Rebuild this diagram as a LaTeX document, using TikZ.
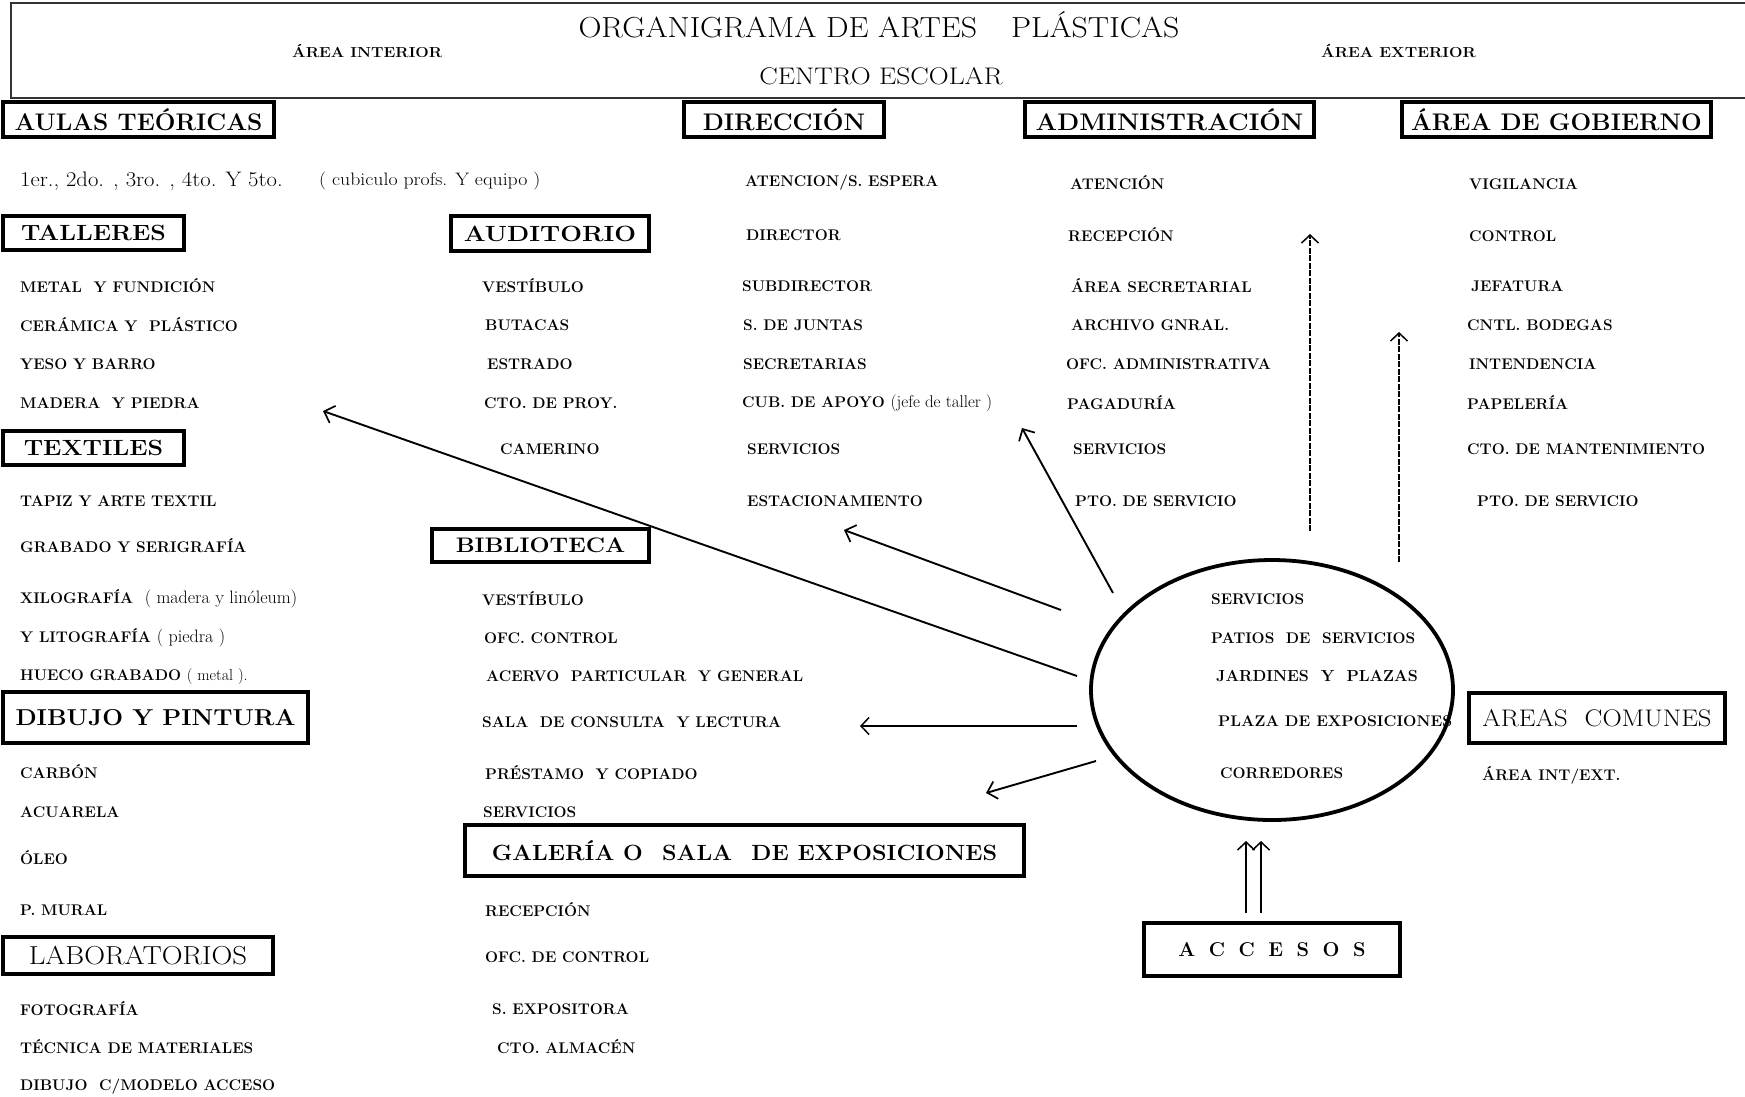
\documentclass[tikz,border=0pt]{standalone}
\usepackage{graphicx}
\usetikzlibrary{arrows.meta,shapes.geometric}
\newcommand{\hsq}[2]{\scalebox{#1}[1]{#2}}
\begin{document}
\begin{tikzpicture}[x=1pt,y=-1pt,
  itm/.style={anchor=west, inner sep=0pt, font=\fontsize{15.4}{17}\selectfont\bfseries},
  lc/.style={anchor=west, inner sep=0pt, font=\fontsize{16}{18}\selectfont},
  hbox/.style={draw, line width=3.4pt, inner sep=0pt, font=\fontsize{24}{26}\selectfont\bfseries},
  bbox/.style={draw, line width=3.4pt, inner sep=0pt, font=\fontsize{22}{24}\selectfont\bfseries},
  arr/.style={line width=1.9pt, -{Straight Barb[length=9pt,width=18pt,line width=1.7pt]}},
  varr/.style={line width=1.2pt, dash pattern=on 6pt off 1.5pt, -{Straight Barb[length=8pt,width=17pt,line width=1.5pt]}},
  tarr/.style={line width=1.2pt, -{Straight Barb[length=8pt,width=17pt,line width=1.5pt]}}]
\useasboundingbox (0,0) rectangle (1745,1096);
\fill[white] (0,0) rectangle (1745,1096);

% header
\draw[line width=1.3pt, black!80] (1750,3) -- (11,3) -- (11,98) -- (1750,98);
\node[inner sep=0pt, font=\fontsize{29}{32}\selectfont] (title) at (879,25) {\hsq{1.1}{ORGANIGRAMA DE ARTES}\hspace{34pt}\hsq{1.1}{PLÁSTICAS}};
\node[inner sep=0pt, anchor=west, font=\fontsize{14.5}{16}\selectfont\bfseries] (aint) at (292,51) {\hsq{1.1}{ÁREA INTERIOR}};
\node[inner sep=0pt, anchor=west, font=\fontsize{14.5}{16}\selectfont\bfseries] (aext) at (1321,51) {\hsq{1.1}{ÁREA EXTERIOR}};
\node[inner sep=0pt, font=\fontsize{24}{26}\selectfont] (centro) at (881,76) {\hsq{1.15}{CENTRO ESCOLAR}};

% boxes
\node[hbox, minimum width=271, minimum height=35] (aulas) at (138.5,119.5) {\raisebox{-2pt}{\hsq{1.02}{AULAS TEÓRICAS}}};
\node[hbox, minimum width=200, minimum height=35] (direc) at (784,119.5) {\raisebox{-2pt}{\hsq{1.02}{DIRECCIÓN}}};
\node[hbox, minimum width=289, minimum height=35] (admin) at (1169.5,119.5) {\raisebox{-2pt}{\hsq{1.06}{ADMINISTRACIÓN}}};
\node[hbox, minimum width=309, minimum height=35] (gob) at (1556.5,119.5) {\raisebox{-2pt}{\hsq{1.02}{ÁREA DE GOBIERNO}}};
\node[bbox, minimum width=181, minimum height=34] (talleres) at (93.5,233) {\hsq{1.13}{TALLERES}};
\node[bbox, minimum width=198, minimum height=35] (audit) at (550,233.5) {\hsq{1.17}{AUDITORIO}};
\node[bbox, minimum width=181, minimum height=34] (textiles) at (93.5,448) {\hsq{1.13}{TEXTILES}};
\node[bbox, minimum width=217, minimum height=33, font=\fontsize{21}{23}\selectfont\bfseries] (biblio) at (540.5,545.5) {\hsq{1.13}{BIBLIOTECA}};
\node[bbox, minimum width=305, minimum height=51, font=\fontsize{23}{25}\selectfont\bfseries] (dibujo) at (155.5,717.5) {\hsq{1.07}{DIBUJO Y PINTURA}};
\node[bbox, minimum width=559, minimum height=51] (galeria) at (744.5,850.5) {\hsq{1.06}{GALERÍA O\hspace{10pt} SALA\hspace{10pt} DE EXPOSICIONES}};
\node[hbox, minimum width=270, minimum height=37, font=\fontsize{26}{28}\selectfont] (labs) at (138,955.5) {\hsq{1.11}{LABORATORIOS}};
\node[bbox, minimum width=256, minimum height=53, font=\fontsize{20}{22}\selectfont\bfseries] (accesos) at (1272,949.5) {A\hspace{13.5pt}C\hspace{13.5pt}C\hspace{13.5pt}E\hspace{13.5pt}S\hspace{13.5pt}O\hspace{13.5pt}S};
\node[hbox, minimum width=256, minimum height=50, font=\fontsize{24}{26}\selectfont] (comunes) at (1597,718) {\hsq{1.11}{AREAS\hspace{8pt} COMUNES}};

% ellipse
\node[draw, ellipse, line width=3.8pt, minimum width=362, minimum height=260, inner sep=0pt] (ell) at (1272,690) {};

% column 1
\node[lc, font=\fontsize{21}{23}\selectfont] (c1a) at (20,181) {\hsq{1.08}{1er., 2do. , 3ro. , 4to. Y 5to.}};
\node[lc, font=\fontsize{18}{20}\selectfont] (c1b) at (319,181) {\hsq{1.1}{( cubiculo profs. Y equipo )}};
\node[itm] (t1) at (20,286) {METAL\ \ Y FUNDICIÓN};
\node[itm] (t2) at (20,325) {CERÁMICA Y\ \ PLÁSTICO};
\node[itm] (t3) at (20,364) {YESO Y BARRO};
\node[itm] (t4) at (20,403) {MADERA\ \ Y PIEDRA};
\node[itm] (x1) at (20,501) {TAPIZ Y ARTE TEXTIL};
\node[itm] (x2) at (20,546) {GRABADO Y SERIGRAFÍA};
\node[itm] (x3) at (20,599) {XILOGRAFÍA\ \ {\mdseries\fontsize{18}{20}\selectfont ( madera y linóleum)}};
\node[itm] (x4) at (20,638) {Y LITOGRAFÍA {\mdseries\fontsize{18}{20}\selectfont ( piedra )}};
\node[itm] (x5) at (20,676) {HUECO GRABADO {\mdseries\fontsize{16}{18}\selectfont ( metal ).}};
\node[itm] (d1) at (20,772) {CARBÓN};
\node[itm] (d2) at (20,812) {ACUARELA};
\node[itm] (d3) at (20,858) {ÓLEO};
\node[itm] (d4) at (20,910) {P. MURAL};
\node[itm] (l1) at (20,1009) {FOTOGRAFÍA};
\node[itm] (l2) at (20,1047) {TÉCNICA DE MATERIALES};
\node[itm] (l3) at (20,1087) {DIBUJO\ \ C/MODELO ACCESO};

% column 2
\node[itm] (u1) at (482,286) {VESTÍBULO};
\node[itm] (u2) at (485,325) {BUTACAS};
\node[itm] (u3) at (487,364) {ESTRADO};
\node[itm] (u4) at (484,403) {CTO. DE PROY.};
\node[itm] (u5) at (500,449) {CAMERINO};
\node[itm] (b1) at (482,599) {VESTÍBULO};
\node[itm] (b2) at (484,638) {OFC. CONTROL};
\node[itm] (b3) at (486,676) {ACERVO\ \ PARTICULAR\ \ Y GENERAL};
\node[itm] (b4) at (482,722) {SALA\ \ DE CONSULTA\ \ Y LECTURA};
\node[itm] (b5) at (485,773) {PRÉSTAMO\ \ Y COPIADO};
\node[itm] (b6) at (483,812) {SERVICIOS};
\node[itm] (g1) at (485,910) {RECEPCIÓN};
\node[itm] (g2) at (485,957) {OFC. DE CONTROL};
\node[itm] (g3) at (492,1009) {S. EXPOSITORA};
\node[itm] (g4) at (497,1047) {CTO. ALMACÉN};

% column 3
\node[itm] (r1) at (745,183) {ATENCION/S. ESPERA};
\node[itm] (r2) at (746,235) {DIRECTOR};
\node[itm] (r3) at (742,286) {SUBDIRECTOR};
\node[itm] (r4) at (743,325) {S. DE JUNTAS};
\node[itm] (r5) at (743,364) {SECRETARIAS};
\node[itm] (r6) at (742,403) {CUB. DE APOYO {\mdseries\fontsize{17}{19}\selectfont (jefe de taller )}};
\node[itm] (r7) at (747,449) {SERVICIOS};
\node[itm] (r8) at (747,501) {ESTACIONAMIENTO};

% column 4
\node[itm] (m1) at (1070,183) {ATENCIÓN};
\node[itm] (m2) at (1068,235) {RECEPCIÓN};
\node[itm] (m3) at (1071,286) {ÁREA SECRETARIAL};
\node[itm] (m4) at (1071,325) {ARCHIVO GNRAL.};
\node[itm] (m5) at (1066,364) {OFC. ADMINISTRATIVA};
\node[itm] (m6) at (1067,403) {PAGADURÍA};
\node[itm] (m7) at (1073,449) {SERVICIOS};
\node[itm] (m8) at (1075,501) {PTO. DE SERVICIO};

% column 5
\node[itm] (v1) at (1469,184) {VIGILANCIA};
\node[itm] (v2) at (1469,236) {CONTROL};
\node[itm] (v3) at (1471,286) {JEFATURA};
\node[itm] (v4) at (1467,325) {CNTL. BODEGAS};
\node[itm] (v5) at (1469,364) {INTENDENCIA};
\node[itm] (v6) at (1467,403) {PAPELERÍA};
\node[itm] (v7) at (1467,449) {CTO. DE MANTENIMIENTO};
\node[itm] (v8) at (1477,501) {PTO. DE SERVICIO};

% ellipse content
\node[itm] (e1) at (1211,599) {SERVICIOS};
\node[itm] (e2) at (1211,638) {PATIOS\ \ DE\ \ SERVICIOS};
\node[itm, font=\fontsize{16}{18}\selectfont\bfseries] (e3) at (1216,676) {JARDINES\ \ Y\ \ PLAZAS};
\node[itm, font=\fontsize{15.4}{17}\selectfont\bfseries] (e4) at (1218,721) {\hsq{1.03}{PLAZA DE EXPOSICIONES}};
\node[itm] (e5) at (1220,773) {CORREDORES};
\node[itm] (aie) at (1482,775) {ÁREA INT/EXT.};

% arrow coordinates
\coordinate (a1s) at (1077,676); \coordinate (a1e) at (323,411);
\coordinate (a2s) at (1061,610); \coordinate (a2e) at (844,530);
\coordinate (a3s) at (1113,593); \coordinate (a3e) at (1022,428);
\coordinate (a4s) at (1310,531); \coordinate (a4e) at (1310,234);
\coordinate (a5s) at (1399,562); \coordinate (a5e) at (1399,332);
\coordinate (a6s) at (1077,726); \coordinate (a6e) at (860,726);
\coordinate (a7s) at (1096,761); \coordinate (a7e) at (986,793);
\coordinate (a8s) at (1246,913); \coordinate (a8e) at (1246,841);
\coordinate (a9s) at (1261,913); \coordinate (a9e) at (1261,841);

\draw[arr] (a1s) -- (a1e);
\draw[arr] (a2s) -- (a2e);
\draw[arr] (a3s) -- (a3e);
\draw[varr] (a4s) -- (a4e);
\draw[varr] (a5s) -- (a5e);
\draw[tarr, line width=1.5pt] (a6s) -- (a6e);
\draw[arr] (a7s) -- (a7e);
\draw[tarr] (a8s) -- (a8e);
\draw[tarr] (a9s) -- (a9e);
\end{tikzpicture}
\end{document}
